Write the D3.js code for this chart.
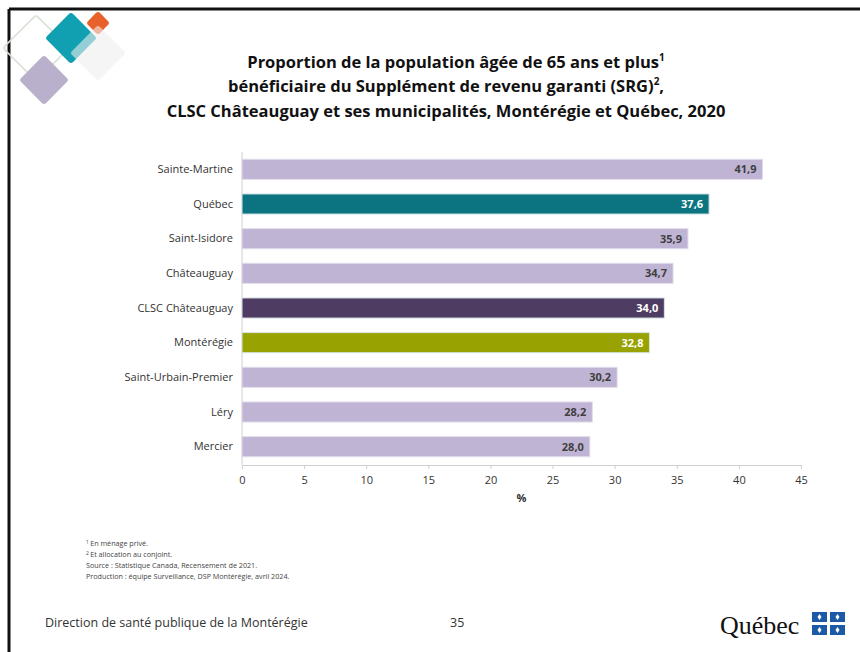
<!DOCTYPE html>
<html lang="fr">
<head>
<meta charset="utf-8" />
<script src="https://d3js.org/d3.v7.min.js"></script>
<style>
  body { margin: 0; background: #fff; }
  svg { display: block; font-family: "Open Sans", sans-serif; }
</style>
</head>
<body>
<div id="chart"></div>
<script>
// data
const places = ["Sainte-Martine", "Québec", "Saint-Isidore", "Châteauguay", "CLSC Châteauguay",
                "Montérégie", "Saint-Urbain-Premier", "Léry", "Mercier"];
const values = [41.9, 37.6, 35.9, 34.7, 34.0, 32.8, 30.2, 28.2, 28.0];
const kinds = ["muni", "quebec", "muni", "muni", "clsc", "monteregie", "muni", "muni", "muni"];
const xTicks = [0, 5, 10, 15, 20, 25, 30, 35, 40, 45];
const footnotes = ["En ménage privé.", "Et allocation au conjoint.",
                   "Source : Statistique Canada, Recensement de 2021.",
                   "Production : équipe Surveillance, DSP Montérégie, avril 2024."];

const fillOf = { muni: "#c0b4d4", quebec: "#0b7480", clsc: "#4f3c63", monteregie: "#98a200" };
const labelOf = { muni: "#3f3f3f", quebec: "#fff", clsc: "#fff", monteregie: "#fff" };

const W = 860, H = 652;
const svg = d3.select("#chart").append("svg").attr("width", W).attr("height", H);

// frame (left and top edges of the slide)
svg.append("line").attr("x1", 9).attr("x2", W).attr("y1", 9).attr("y2", 9)
  .attr("stroke", "#111").attr("stroke-width", 3);
svg.append("line").attr("x1", 9).attr("x2", 9).attr("y1", 9).attr("y2", H)
  .attr("stroke", "#111").attr("stroke-width", 3);

// decorative diamonds
const deco = svg.append("g");
function diamond(cx, cy, r, fill, stroke, op) {
  deco.append("rect").attr("x", cx - r / Math.SQRT2).attr("y", cy - r / Math.SQRT2)
    .attr("width", r * Math.SQRT2).attr("height", r * Math.SQRT2).attr("rx", 3)
    .attr("transform", `rotate(45,${cx},${cy})`)
    .attr("fill", fill).attr("stroke", stroke || "none").attr("stroke-width", 1.5)
    .attr("opacity", op == null ? 1 : op);
}
diamond(36, 48, 33, "none", "#d9e2d5");
diamond(44, 80, 25, "#b9b0cc");
diamond(71, 38, 26, "#11a0b2");
diamond(98, 23, 12, "#e8612b");
diamond(98, 53, 28, "#eeeeee", null, 0.6);

// title
const title = svg.append("text").attr("text-anchor", "middle")
  .attr("font-weight", "bold").attr("font-size", 16.5).attr("fill", "#111");
const t1 = title.append("tspan").attr("x", 456).attr("y", 68).text("Proportion de la population âgée de 65 ans et plus");
t1.append("tspan").attr("font-size", 10).attr("dy", -7).text("1");
title.append("tspan").attr("x", 446).attr("y", 92).text("bénéficiaire du Supplément de revenu garanti (SRG)")
  .append("tspan").attr("font-size", 10).attr("dy", -7).text("2");
title.append("tspan").attr("dy", 7).text(",");
title.append("tspan").attr("x", 446).attr("y", 117).text("CLSC Châteauguay et ses municipalités, Montérégie et Québec, 2020");

// chart
const x = d3.scaleLinear().domain([0, 45]).range([242, 801]);
const y = d3.scaleBand().domain(places).range([152, 464]).paddingInner(0.42).paddingOuter(0.21);

svg.append("line").attr("x1", x(0)).attr("x2", x(0)).attr("y1", 152).attr("y2", 465)
  .attr("stroke", "#d0d0d0");

svg.append("g").selectAll("rect").data(places).join("rect")
  .attr("x", x(0)).attr("y", d => y(d))
  .attr("width", (d, i) => x(values[i]) - x(0)).attr("height", y.bandwidth())
  .attr("fill", (d, i) => fillOf[kinds[i]])
  .attr("stroke", (d, i) => kinds[i] === "muni" ? "#e2dcec" : "#d9e6e8").attr("stroke-width", 1);

svg.append("g").selectAll("text").data(places).join("text")
  .attr("x", (d, i) => x(values[i]) - 6).attr("y", d => y(d) + y.bandwidth() / 2)
  .attr("dy", "0.35em").attr("text-anchor", "end")
  .attr("font-size", 11).attr("font-weight", "bold")
  .attr("fill", (d, i) => labelOf[kinds[i]])
  .text((d, i) => d3.format(".1f")(values[i]).replace(".", ","));

const yAxis = svg.append("g").attr("transform", `translate(${x(0) - 9},0)`)
  .call(d3.axisLeft(y).tickSize(0).tickPadding(0));
yAxis.select(".domain").remove();
yAxis.selectAll("text").attr("font-size", 11).attr("fill", "#333").attr("font-family", "Open Sans");

const xAxis = svg.append("g").attr("transform", "translate(0,465)")
  .call(d3.axisBottom(x).tickValues(xTicks).tickSize(4).tickPadding(7).tickSizeOuter(4));
xAxis.select(".domain").attr("stroke", "#d0d0d0");
xAxis.selectAll(".tick line").attr("stroke", "#d0d0d0");
xAxis.selectAll("text").attr("font-size", 11).attr("fill", "#333").attr("font-family", "Open Sans");

svg.append("text").attr("x", x(22.5)).attr("y", 502).attr("text-anchor", "middle")
  .attr("font-size", 11).attr("font-weight", "bold").attr("fill", "#333").text("%");

// footnotes
const fn = svg.append("g").attr("font-size", 7.2).attr("fill", "#444");
footnotes.forEach((f, i) => {
  const t = fn.append("text").attr("x", 86).attr("y", 546 + i * 11);
  if (i < 2) t.append("tspan").attr("font-size", 5).attr("dy", -2).text(i + 1 + " ");
  t.append("tspan").attr("dy", i < 2 ? 2 : 0).text(f);
});

// footer
svg.append("text").attr("x", 45).attr("y", 627).attr("font-size", 12.5).attr("fill", "#333")
  .text("Direction de santé publique de la Montérégie");
svg.append("text").attr("x", 450).attr("y", 627).attr("font-size", 12.5).attr("fill", "#333").text("35");

// Québec signature
svg.append("text").attr("x", 720).attr("y", 634).attr("font-size", 26)
  .attr("font-family", "Liberation Serif, serif").attr("fill", "#111").text("Québec");
const flag = svg.append("g").attr("transform", "translate(812,612)");
[[0, 0], [18, 0], [0, 13], [18, 13]].forEach(([dx, dy]) => {
  flag.append("rect").attr("x", dx).attr("y", dy).attr("width", 15).attr("height", 10).attr("fill", "#1c5aa6");
  flag.append("path").attr("d", `M${dx + 7.5},${dy + 2}l2,3l-2,3l-2,-3z`).attr("fill", "#fff");
});
flag.append("rect").attr("x", 15).attr("y", 0).attr("width", 3).attr("height", 23).attr("fill", "#fff");
</script>
</body>
</html>
